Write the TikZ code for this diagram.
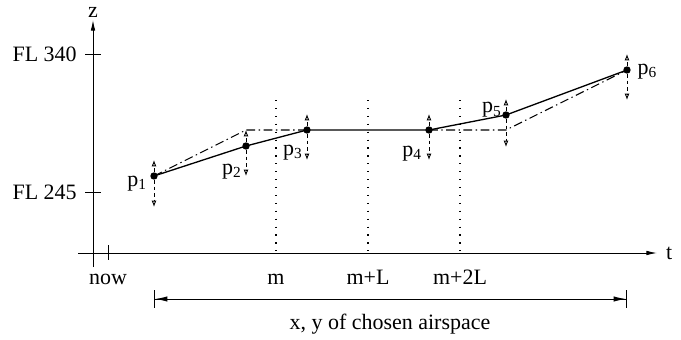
\documentclass[tikz,border=0pt]{standalone}
\usepackage{fontspec}
\setmainfont{Liberation Serif}
\usetikzlibrary{arrows.meta,positioning}

\begin{document}
\begin{tikzpicture}[x=0.02cm, y=-0.02cm, font=\fontsize{12.5}{15}\selectfont,
    dot/.style={circle, fill, inner sep=0pt, minimum size=4.2pt},
    lbl/.style={inner sep=0pt},
    axis/.style={line width=0.55pt, -{Latex[length=6pt,width=2.6pt]}},
    vary/.style={line width=0.5pt, dash pattern=on 2.2pt off 1.5pt, -{Latex[open,length=3.6pt,width=2.8pt]}},
    plan/.style={line width=0.6pt, dash pattern=on 5pt off 2pt on 0.8pt off 2pt},
    grid/.style={line width=0.7pt, dash pattern=on 0.7pt off 3.8pt},
    span/.style={line width=0.55pt, {Bar[width=10pt]Latex[length=7pt,width=3pt]}-{Latex[length=7pt,width=3pt]Bar[width=10pt]}}]
  \useasboundingbox (0,0) rectangle (681,339);

  % Axes
  \draw[axis] (93,267) coordinate (zlo) -- (93,20) coordinate (ztop);
  \draw[axis] (78,253) coordinate (tlo) -- (657,253) coordinate (tend);
  \node[lbl] (zlab) at (93,12) {z};
  \node[lbl, right=5pt of tend] (tlab) {t};
  \draw[line width=0.55pt] (85,54) -- (101,54);
  \draw[line width=0.55pt] (85,192) -- (101,192);
  \draw[line width=0.55pt] (108,245) -- (108,260);
  \node[lbl, anchor=east] (fl340) at (77,54) {FL 340};
  \node[lbl, anchor=east] (fl245) at (77,192) {FL 245};

  % Time marks
  \draw[grid] (276,100) -- (276,253);
  \draw[grid] (368,100) -- (368,253);
  \draw[grid] (460,100) -- (460,253);
  \node[lbl, anchor=base] (now) at (108,284) {now};
  \node[lbl, anchor=base] (m) at (276,284) {m};
  \node[lbl, anchor=base] (mL) at (368,284) {m+L};
  \node[lbl, anchor=base] (m2L) at (460,284) {m+2L};

  % Points
  \node[dot] (p1) at (154,176) {};
  \node[dot] (p2) at (246,146) {};
  \node[dot] (p3) at (307,130) {};
  \node[dot] (p4) at (429,130) {};
  \node[dot] (p5) at (506,115) {};
  \node[dot] (p6) at (627,70) {};
  \coordinate (k2) at (p2 |- p3);
  \coordinate (k5) at (p5 |- p4);

  % Planned and actual profile
  \draw[plan] (p1.center) -- (k2) -- (p3.center);
  \draw[plan] (p4.center) -- (k5) -- (p6.center);
  \draw[line width=0.75pt] (p1.center) -- (p2.center) -- (p3.center) -- (p4.center) -- (p5.center) -- (p6.center);

  % Vertical freedom
  \path (p1) ++(0,-16) coordinate (p1u) ++(0,47) coordinate (p1d);
  \path (p2) ++(0,-16) coordinate (p2u) ++(0,46) coordinate (p2d);
  \path (p3) ++(0,-16) coordinate (p3u) ++(0,46) coordinate (p3d);
  \path (p4) ++(0,-16) coordinate (p4u) ++(0,46) coordinate (p4d);
  \path (p5) ++(0,-16) coordinate (p5u) ++(0,48) coordinate (p5d);
  \path (p6) ++(0,-16) coordinate (p6u) ++(0,46) coordinate (p6d);
  \draw[vary] (p1) -- (p1u);  \draw[vary] (p1) -- (p1d);
  \draw[vary] (p2) -- (p2u);  \draw[vary] (p2) -- (p2d);
  \draw[vary] (p3) -- (p3u);  \draw[vary] (p3) -- (p3d);
  \draw[vary] (p4) -- (p4u);  \draw[vary] (p4) -- (p4d);
  \draw[vary] (p5) -- (p5u);  \draw[vary] (p5) -- (p5d);
  \draw[vary] (p6) -- (p6u);  \draw[vary] (p6) -- (p6d);

  % Point labels
  \node[lbl, left=1.5pt of p1, yshift=-4.5pt] (l1) {p\textsubscript{1}};
  \node[lbl, left=0pt of p2, yshift=-14.5pt] (l2) {p\textsubscript{2}};
  \node[lbl, left=0pt of p3, yshift=-12.8pt] (l3) {p\textsubscript{3}};
  \node[lbl, left=1.5pt of p4, yshift=-13.5pt] (l4) {p\textsubscript{4}};
  \node[lbl, left=0pt of p5, yshift=2.8pt] (l5) {p\textsubscript{5}};
  \node[lbl, right=3.5pt of p6, yshift=-0.8pt] (l6) {p\textsubscript{6}};

  % Airspace span
  \coordinate (r1) at (154,299);
  \coordinate (r2) at (627,299);
  \draw[span] (r1) -- (r2);
  \node[lbl, anchor=base] (area) at (390,329) {x, y of chosen airspace};
\end{tikzpicture}
\end{document}
